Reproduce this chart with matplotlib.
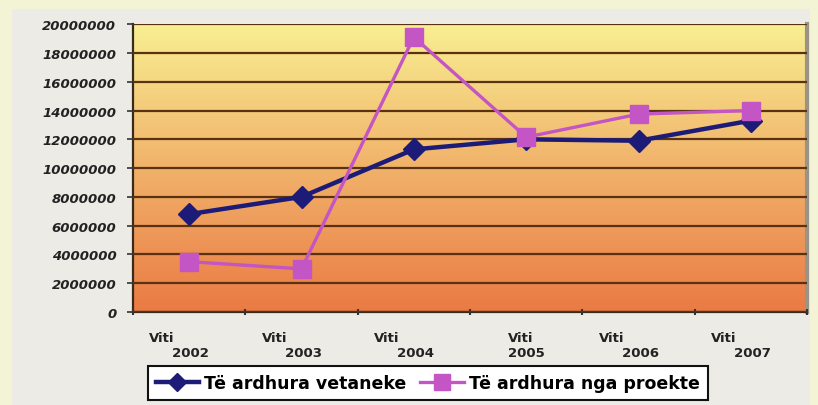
import numpy as np
import matplotlib
matplotlib.use('Agg')
import matplotlib.pyplot as plt
from matplotlib.colors import LinearSegmentedColormap
from matplotlib.patches import Rectangle
from matplotlib.transforms import ScaledTranslation

years = ['2002', '2003', '2004', '2005', '2006', '2007']
tick_labels = ['Viti\n     2002', 'Viti\n     2003', 'Viti\n     2004',
               'Viti\n2005', 'Viti\n     2006', 'Viti\n     2007']
own_income = [6800000, 8000000, 11300000, 12000000, 11900000, 13300000]
project_income = [3500000, 3000000, 19100000, 12150000, 13750000, 14000000]
series_names = ['Të ardhura vetaneke', 'Të ardhura nga proekte']

navy = '#1c1c78'
pink = '#c455c4'
grid_color = '#5a3212'

fig = plt.figure(figsize=(8.18, 4.06), dpi=100)
fig.patch.set_facecolor('#f3f4d6')
# grey-white panel behind the chart
fig.patches.append(Rectangle((0.0147, 0.0), 0.975, 0.975, transform=fig.transFigure,
                             facecolor='#ecebe5', edgecolor='none', zorder=-1))

ax = fig.add_axes([0.1626, 0.229, 0.824, 0.709])

# yellow-to-orange gradient background
grad = LinearSegmentedColormap.from_list('bg', ['#ea7a44', '#f1b26a', '#f8ef92'])
ax.imshow(np.linspace(0, 1, 256).reshape(-1, 1), cmap=grad, aspect='auto',
          extent=[0, 1, 0, 1], transform=ax.transAxes, origin='lower', zorder=0)

x = np.arange(len(years))
ax.plot(x, own_income, color=navy, lw=3.2, marker='D', ms=11,
        markerfacecolor=navy, markeredgecolor=navy, label=series_names[0], zorder=3)
ax.plot(x, project_income, color=pink, lw=2.4, marker='s', ms=13,
        markerfacecolor=pink, markeredgecolor=pink, label=series_names[1], zorder=4)

ax.set_xlim(-0.5, len(years) - 0.5)
ax.set_ylim(0, 20000000)
ax.set_yticks(np.arange(0, 20000001, 2000000))
ax.set_yticklabels([str(v) for v in range(0, 20000001, 2000000)],
                   fontfamily='DejaVu Sans', fontweight='bold', fontstyle='italic',
                   fontsize=9.5, color='#222222')
ax.yaxis.grid(True, color=grid_color, lw=1.6)
ax.set_axisbelow(False)
for gl in ax.get_ygridlines():
    gl.set_zorder(1)

ax.set_xticks(np.arange(-0.5, len(years)), labels=[])
ax.set_xticks(x, minor=True)
ax.set_xticklabels(tick_labels, minor=True, fontfamily='DejaVu Sans',
                   fontweight='bold', fontsize=9.5, color='#222222',
                   ha='center', multialignment='left')
ax.tick_params(axis='x', which='minor', length=0, pad=14)
ax.tick_params(axis='x', which='major', length=4, width=1.5, color='#333333', direction='inout')
ax.tick_params(axis='y', length=4, width=1.2, color='#333333', pad=8)
# the year labels sit a little left of the category centres
shift = ScaledTranslation(-10 / 100, 0, fig.dpi_scale_trans)
for i, lbl in enumerate(ax.get_xticklabels(minor=True)):
    if i != 3:
        lbl.set_transform(lbl.get_transform() + shift)

ax.spines['top'].set_visible(False)
ax.spines['left'].set_color('#3a2a1a')
ax.spines['left'].set_linewidth(1.6)
ax.spines['bottom'].set_color('#3a2a1a')
ax.spines['bottom'].set_linewidth(1.6)
ax.spines['right'].set_color('#9a9488')
ax.spines['right'].set_linewidth(3)

leg = fig.legend(loc='center', bbox_to_anchor=(0.523, 0.054),
                 ncol=2, frameon=True, fancybox=False, edgecolor='#111111',
                 facecolor='white', framealpha=1, markerscale=0.85,
                 prop={'family': 'DejaVu Sans', 'weight': 'bold', 'size': 12.5},
                 handlelength=2.5, borderpad=0.45, borderaxespad=0,
                 handletextpad=0.3, columnspacing=0.8)
leg.get_frame().set_linewidth(1.5)

fig.savefig('out.png', dpi=100, facecolor=fig.get_facecolor())
